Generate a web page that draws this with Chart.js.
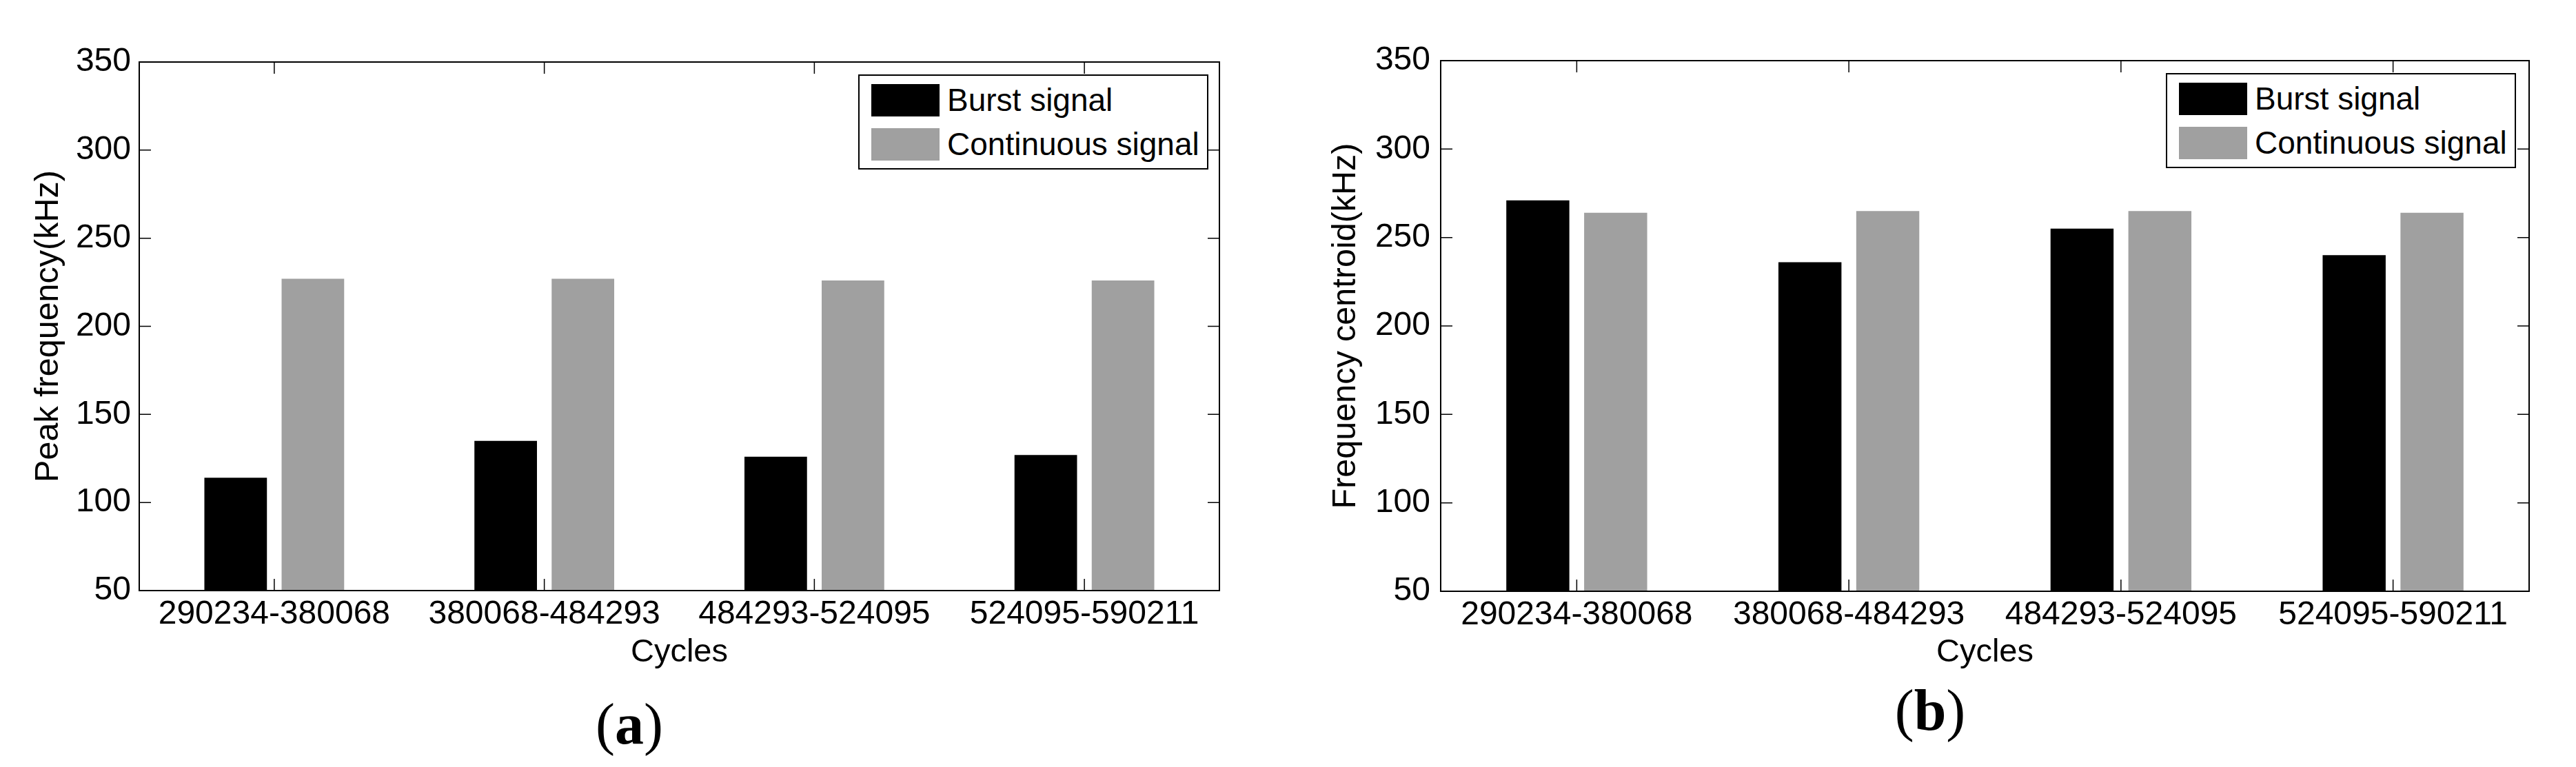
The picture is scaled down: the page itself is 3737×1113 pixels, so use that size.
<!DOCTYPE html>
<html>
<head>
<meta charset="utf-8">
<script src="https://cdn.jsdelivr.net/npm/chart.js@4.4.0/dist/chart.umd.min.js"></script>
<style>
html,body{margin:0;padding:0;background:#fff;}
#page{position:relative;width:3737px;height:1113px;background:#fff;overflow:hidden;font-family:"Liberation Sans",Arial,sans-serif;}
.wrap{position:absolute;top:0;height:1000px;}
#wa{left:0;width:1868px;}
#wb{left:1868px;width:1869px;}
.legend{position:absolute;border:2px solid #000;background:#fff;box-sizing:border-box;padding:3px 11px 3px 17px;font-size:46px;color:#000;white-space:nowrap;}
.legend .row{display:flex;align-items:center;height:64px;}
.legend .sw{width:99px;height:47px;margin-right:11px;flex:none;}
.sub{position:absolute;font-family:"Liberation Serif","Times New Roman",serif;font-size:84px;color:#000;transform:translate(-50%,-50%);white-space:nowrap;}
</style>
</head>
<body>
<div id="page">
  <div class="wrap" id="wa"><canvas id="ca" width="1868" height="1000"></canvas></div>
  <div class="wrap" id="wb"><canvas id="cb" width="1869" height="1000"></canvas></div>
  <div class="sub" style="left:913px;top:1050px;">(<b>a</b>)</div>
  <div class="sub" style="left:2800px;top:1030px;">(<b>b</b>)</div>
</div>
<script>
// ---------- data ----------
const categories = ['290234-380068', '380068-484293', '484293-524095', '524095-590211'];
const seriesNames = ['Burst signal', 'Continuous signal'];
const seriesColors = ['#000000', '#a0a0a0'];
const peakBurst = [114, 135, 126, 127];
const peakContinuous = [227, 227, 226, 226];
const centroidBurst = [271, 236, 255, 240];
const centroidContinuous = [264, 265, 265, 264];
const yMin = 50, yMax = 350, yStep = 50;
const xTitle = 'Cycles';
const yTitleA = 'Peak frequency(kHz)';
const yTitleB = 'Frequency centroid(kHz)';

const FONT = '"Liberation Sans", Arial, sans-serif';

// MATLAB-like box with inward ticks, drawn from the chart's own scales
const framePlugin = {
  id: 'frame',
  afterDatasetsDraw(chart) {
    const {ctx, chartArea: a, scales: {x, y}} = chart;
    const L = 17;
    ctx.save();
    ctx.strokeStyle = '#000';
    ctx.lineWidth = 1.5;
    ctx.beginPath();
    y.ticks.forEach(t => {
      const py = y.getPixelForValue(t.value);
      ctx.moveTo(a.left, py); ctx.lineTo(a.left + L, py);
      ctx.moveTo(a.right, py); ctx.lineTo(a.right - L, py);
    });
    x.ticks.forEach((t, i) => {
      const px = x.getPixelForTick(i);
      ctx.moveTo(px, a.top); ctx.lineTo(px, a.top + L);
      ctx.moveTo(px, a.bottom); ctx.lineTo(px, a.bottom - L);
    });
    ctx.stroke();
    ctx.lineWidth = 2;
    ctx.strokeRect(a.left, a.top, a.right - a.left, a.bottom - a.top);
    ctx.restore();
  }
};

function makeChart(canvasId, burst, cont, yTitle, cfg) {
  const ctx = document.getElementById(canvasId).getContext('2d');
  return new Chart(ctx, {
    type: 'bar',
    data: {
      labels: categories,
      datasets: [
        {label: seriesNames[0], data: burst, backgroundColor: seriesColors[0], borderWidth: 0,
         categoryPercentage: 0.572, barPercentage: 0.81},
        {label: seriesNames[1], data: cont, backgroundColor: seriesColors[1], borderWidth: 0,
         categoryPercentage: 0.572, barPercentage: 0.81}
      ]
    },
    options: {
      responsive: false,
      animation: false,
      devicePixelRatio: 1,
      layout: {padding: {left: 0, top: cfg.top, right: cfg.right, bottom: 0}},
      plugins: {legend: {display: false}, tooltip: {enabled: false}},
      scales: {
        x: {
          type: 'category',
          offset: true,
          grid: {display: false, drawTicks: false},
          border: {display: false},
          ticks: {color: '#000', font: {family: FONT, size: 48}, padding: 6, maxRotation: 0, autoSkip: false},
          title: {display: true, text: xTitle, color: '#000', font: {family: FONT, size: 47},
                  padding: {top: 0, bottom: 25}},
          afterFit(s) { s.height = cfg.xh; }
        },
        y: {
          min: yMin, max: yMax,
          grid: {display: false, drawTicks: false},
          border: {display: false},
          ticks: {stepSize: yStep, color: '#000', font: {family: FONT, size: 48}, padding: cfg.tp},
          title: {display: true, text: yTitle, color: '#000', font: {family: FONT, size: 48.5},
                  padding: {top: cfg.tt, bottom: 0}},
          afterFit(s) { s.width = cfg.yw; }
        }
      }
    },
    plugins: [framePlugin]
  });
}

function addLegend(chart, wrapId, rightGap, topGap) {
  const wrap = document.getElementById(wrapId);
  const lg = document.createElement('div');
  lg.className = 'legend';
  chart.data.datasets.forEach(ds => {
    const row = document.createElement('div');
    row.className = 'row';
    const sw = document.createElement('div');
    sw.className = 'sw';
    sw.style.background = ds.backgroundColor;
    const tx = document.createElement('span');
    tx.textContent = ds.label;
    row.appendChild(sw); row.appendChild(tx);
    lg.appendChild(row);
  });
  wrap.appendChild(lg);
  const a = chart.chartArea;
  lg.style.left = (a.right - rightGap - lg.offsetWidth) + 'px';
  lg.style.top = (a.top + topGap) + 'px';
}

const chartA = makeChart('ca', peakBurst, peakContinuous, yTitleA,
  {top: 90, right: 99, xh: 143, yw: 202, tp: 12, tt: 42});
const chartB = makeChart('cb', centroidBurst, centroidContinuous, yTitleB,
  {top: 88, right: 68, xh: 142, yw: 222, tp: 15, tt: 56});
addLegend(chartA, 'wa', 16, 18);
addLegend(chartB, 'wb', 19, 18);
</script>
</body>
</html>
